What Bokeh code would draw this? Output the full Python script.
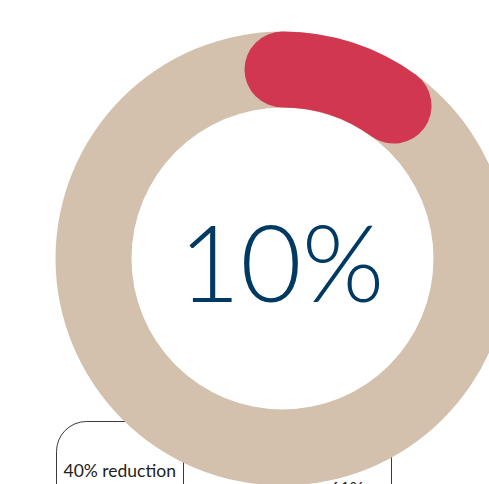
from bokeh.plotting import figure
from bokeh.models import Range1d
from bokeh.core.properties import value
from bokeh.embed import file_html
from bokeh.resources import INLINE

# ---- data ----
share_pct = [10]                  # highlighted share of the ring
center_label = ["10%"]
box_labels = ["40% reduction", "61%"]

# ---- layout (image pixels -> data units, y up) ----
W, H = 489, 484
def Y(py):
    return H - py

p = figure(width=W, height=H, x_range=Range1d(0, W), y_range=Range1d(0, H),
           output_backend="svg", toolbar_location=None, min_border=0,
           x_axis_location=None, y_axis_location=None, outline_line_color=None)
p.grid.visible = False
p.background_fill_color = "white"
p.border_fill_color = "white"

cx, cy = 282, Y(258)
r_in, r_out = 151, 227
r_mid = (r_in + r_out) / 2
ring_w = r_out - r_in

# boxes behind the ring
p.quad(left=[56], right=[183], top=[Y(421)], bottom=[Y(540)], fill_color=None,
       line_color="#3a3a3a", line_width=1, border_radius=30)
p.quad(left=[183], right=[391], top=[Y(421)], bottom=[Y(540)], fill_color=None,
       line_color="#3a3a3a", line_width=1, border_radius=30)

# ring
p.annulus(x=[cx], y=[cy], inner_radius=r_in, outer_radius=r_out,
          fill_color="#D3C1AD", line_color=None)

# highlighted arc (clockwise from top)
starts = [90 - v * 3.6 for v in share_pct]
p.arc(x=[cx], y=[cy], radius=r_mid, start_angle=starts, end_angle=[90] * len(share_pct),
      start_angle_units="deg", end_angle_units="deg", direction="anticlock",
      line_color="#D1384F", line_width=ring_w, line_cap="round")

# centre label
p.text(x=[281], y=[Y(260)], text=center_label, text_align="center", text_baseline="middle",
       text_font=value("Lato Light"), text_font_size="106px", text_color="#003A63")

# box labels
p.text(x=[63, 329], y=[Y(470), Y(488)], text=box_labels, text_align="left",
       text_baseline="middle", text_font=value("Lato"), text_font_size="17.5px",
       text_color="#222222")

open("out.html", "w").write(file_html(p, INLINE))
